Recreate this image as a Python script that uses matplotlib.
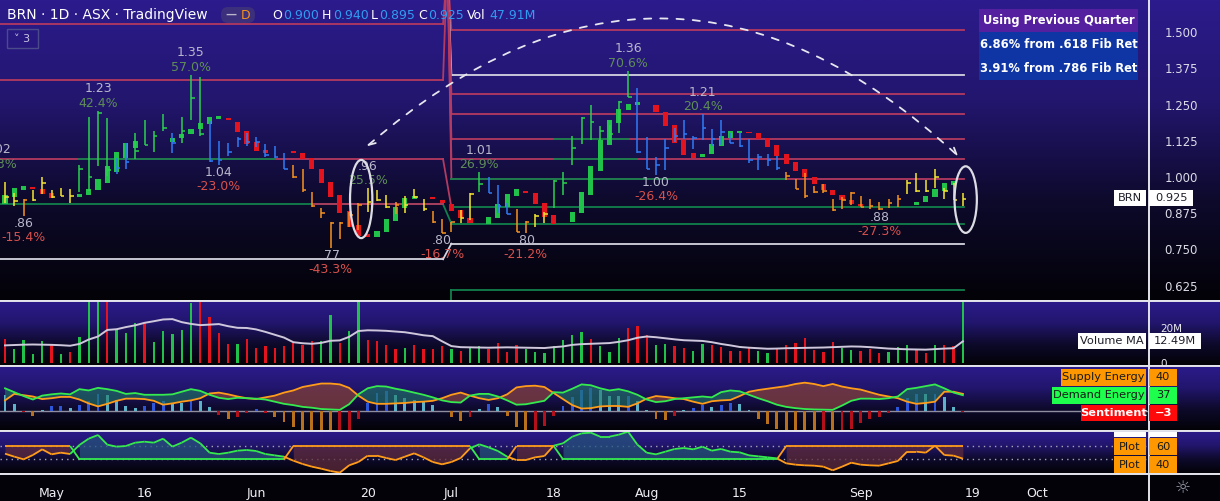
import numpy as np
import matplotlib
matplotlib.use("Agg")
import matplotlib.pyplot as plt
from matplotlib.patches import Ellipse, FancyArrowPatch, Rectangle, FancyBboxPatch
from matplotlib.colors import LinearSegmentedColormap
from matplotlib.collections import LineCollection

W, H = 1220, 501
PW = 1148  # right edge of the chart panes (price scale to the right)

# ---------------- data (bar index 0 = 22 Apr, last = 16 Sep) ----------------
body_o = [.906, .932, .955, .965, .959, .945, None, None, .932, .938,
          .955, .980, 1.018, 1.065, 1.101, None, None, None, 1.122, 1.135,
          1.148, 1.166, 1.183, 1.201, 1.204, 1.191, 1.159, 1.122, 1.093, None,
          None, 1.090, 1.082, 1.065, 1.028, .984, .938, .883, .834, .802,
          .794, .811, .848, .894, .923, None, .931, .921, .906, .886,
          .859, None, .838, .859, .897, .934, .952, .945, .910, .869,
          None, .846, .877, .938, 1.022, 1.110, 1.187, 1.231, 1.250, None,
          1.249, 1.224, 1.180, 1.128, 1.083, 1.070, 1.079, 1.107, 1.134, 1.153,
          1.156, 1.151, 1.134, 1.110, 1.079, 1.052, 1.028, .999, .976, .955,
          .938, .921, .907, None, None, None, None, None, .903, .915,
          .932, .953, .972, None]
body_c = [.938, .963, .969, .959, .941, .927, None, None, .941, .959,
          .993, 1.038, 1.086, 1.116, 1.124, None, None, None, 1.135, 1.148,
          1.166, 1.187, 1.207, 1.211, 1.197, 1.155, 1.114, 1.091, 1.084, None,
          None, 1.084, 1.061, 1.026, .980, .932, .877, .828, .797, .794,
          .815, .855, .896, .926, .934, None, .925, .909, .884, .857,
          .840, None, .863, .907, .941, .959, .945, .908, .863, .838,
          None, .880, .948, 1.038, 1.128, 1.197, 1.234, 1.253, 1.259, None,
          1.225, 1.177, 1.118, 1.076, 1.067, 1.079, 1.114, 1.142, 1.159, 1.159,
          1.153, 1.130, 1.105, 1.073, 1.045, 1.022, 1.001, .976, .955, .938,
          .921, .907, .900, None, None, None, None, None, .913, .934,
          .957, .978, .986, None]
bar_hi = [.982, .944, .923, .955, .999, .955, .962, .959, 1.040, 1.207,
          1.228, 1.204, 1.067, 1.116, 1.151, 1.197, 1.159, 1.218, 1.151, 1.206,
          1.352, 1.344, 1.194, 1.124, 1.118, 1.138, 1.151, 1.139, 1.114, 1.107,
          1.082, 1.041, 1.028, .949, .894, .846, .846, .880, .909, .961,
          .955, .938, .914, .934, .959, .924, .883, .855, .846, .886,
          .944, 1.016, .999, .972, .909, .888, .848, .872, .880, .990,
          1.017, 1.142, 1.206, 1.249, 1.176, 1.180, 1.262, 1.366, 1.306, 1.139,
          1.068, 1.131, 1.168, 1.197, 1.142, 1.216, 1.165, 1.197, 1.151, 1.153,
          1.130, 1.079, 1.079, 1.073, 1.017, .992, 1.013, .969, .975, .924,
          .930, .947, .934, .923, .915, .923, .937, .990, 1.013, .990,
          1.026, .961, .978, .944]
bar_lo = [.909, .900, .866, .918, .940, .926, .934, .911, .948, .953,
          1.039, 1.003, 1.009, 1.026, 1.061, 1.109, 1.087, 1.159, 1.082, 1.118,
          1.197, 1.143, 1.053, 1.041, 1.073, 1.105, 1.107, 1.105, 1.070, 1.065,
          1.026, .995, .947, .897, .859, .754, .785, .828, .817, .880,
          .918, .892, .872, .875, .926, .884, .840, .806, .811, .842,
          .852, .949, .944, .875, .871, .811, .806, .828, .840, .892,
          .938, 1.041, 1.114, 1.128, 1.128, 1.128, 1.153, 1.275, 1.082, 1.026,
          1.007, 1.024, 1.122, 1.130, 1.096, 1.128, 1.107, 1.110, 1.116, 1.105,
          1.049, 1.024, 1.038, 1.024, .990, .958, .929, .946, .946, .884,
          .888, .904, .895, .891, .885, .894, .895, .940, .949, .949,
          .961, .925, .921, .901]
bar_tick = [.932, .917, .920, .922, .980, .930, .936, .934, 1.026, 1.000,
            1.220, 1.024, 1.030, 1.053, 1.090, 1.110, 1.140, 1.170, 1.118, 1.160,
            1.272, 1.150, 1.055, 1.059, 1.085, 1.130, 1.120, 1.120, 1.075, 1.068,
            1.028, 1.000, .955, .900, .876, .840, .840, .870, .905, .915,
            .922, .895, .905, .905, .930, .888, .845, .806, .843, .860,
            .940, .975, .946, .900, .872, .811, .845, .865, .872, .985,
            .980, 1.100, 1.203, 1.190, 1.160, 1.150, 1.258, 1.275, 1.085, 1.028,
            1.040, 1.100, 1.140, 1.150, 1.135, 1.170, 1.130, 1.155, 1.118, 1.107,
            1.057, 1.070, 1.060, 1.030, 1.005, .960, .935, .947, .950, .886,
            .920, .945, .898, .900, .888, .910, .925, .980, .950, .953,
            1.000, .950, .921, .925]
bar_col = ("yyoyyyyygg" "ggbbggggbg" "ggbbbbbbbb" "booooooooy" "yyoyyyoooy"
           "ygbbbooyyg" "ggggggggbb" "bbbbbbbbbb" "bbbboooooo" "oooooooyyy" "yyyy")

volume = [13.9, 8.3, 13.3, 5.6, 12.8, 10.2, 5.6, 6.7, 15.0, 40.0,
          38.0, 36.0, 19.3, 17.2, 22.6, 22.6, 12.2, 18.3, 16.7, 18.9,
          33.9, 36.0, 26.1, 17.2, 11.1, 11.1, 13.9, 8.9, 10.0, 8.9,
          10.0, 11.7, 10.6, 12.8, 12.8, 27.2, 11.7, 18.3, 40.0, 13.3,
          12.8, 10.6, 8.3, 8.9, 10.6, 8.3, 8.3, 10.0, 8.3, 7.2,
          9.4, 10.0, 8.3, 11.7, 6.7, 10.6, 8.3, 6.7, 6.1, 10.0,
          13.3, 16.1, 17.8, 13.9, 10.0, 6.7, 14.4, 20.0, 21.1, 16.1,
          10.6, 11.1, 10.0, 8.9, 7.2, 11.1, 10.6, 9.4, 7.2, 7.2,
          8.9, 7.2, 6.1, 8.9, 10.6, 11.7, 14.4, 7.8, 6.7, 12.2,
          8.9, 7.8, 7.2, 8.3, 6.1, 6.7, 9.4, 10.6, 8.3, 6.1,
          10.6, 10.6, 10.0, 47.91]
vol_col = ("rggggrgrgg" "grgggrgggg" "grrrrgrrrr" "rrrrggrggr" "rrrgrrrrgr"
           "ggrrrrgggg" "gggrgggrrr" "ggrrggrrrr" "rggrrrrrrr" "ggrrrgggrr" "grrg")
vol_ma = [10.2, 10.4, 10.6, 10.7, 10.6, 10.5, 10.3, 10.0, 11.0, 13.5,
          15.2, 18.9, 19.3, 20.5, 21.5, 22.9, 23.8, 24.8, 25.0, 23.3,
          22.3, 21.6, 21.9, 22.2, 21.0, 20.1, 20.0, 19.2, 17.8, 16.2,
          14.6, 12.0, 11.4, 11.1, 11.6, 12.8, 13.0, 15.0, 18.3, 18.7,
          18.6, 18.4, 18.0, 17.6, 16.8, 15.9, 15.4, 12.5, 9.8, 9.2,
          9.1, 9.0, 8.9, 9.0, 9.1, 9.0, 8.9, 8.8, 8.7, 9.2,
          9.6, 10.5, 10.9, 11.1, 11.3, 11.5, 12.2, 13.1, 14.5, 15.2,
          14.8, 14.2, 13.6, 13.1, 12.9, 12.7, 12.0, 11.0, 10.2, 9.3,
          8.9, 8.6, 8.3, 8.4, 8.6, 8.7, 8.8, 8.9, 9.0, 9.2,
          9.4, 9.6, 9.5, 9.2, 8.8, 8.4, 8.2, 8.0, 7.9, 7.8,
          8.1, 8.4, 8.6, 12.49]

demand = [53, 44, 35, 27, 36, 39, 41, 39, 51, 48,
          54, 51, 47, 40, 42, 38, 38, 38, 39, 45,
          51, 47, 38, 31, 28, 31, 30, 29, 27, 22,
          17, 14, 10, 8, 5, 4, 3, 16, 39, 53,
          58, 57, 52, 48, 43, 38, 32, 25, 21, 20,
          36, 40, 40, 34, 25, 15, 16, 20, 24, 44,
          43, 52, 62, 60, 53, 48, 51, 46, 38, 27,
          21, 23, 28, 30, 32, 34, 32, 44, 48, 46,
          38, 30, 23, 15, 10, 7, 5, 4, 3.5, 3,
          13, 24, 29, 29, 28, 30, 34, 51, 54, 58,
          62, 53, 43, 37]
supply = [25, 40, 37, 34, 28, 30, 33, 33, 27, 18,
          11, 17, 24, 29, 29, 28, 24, 15, 18, 22,
          25, 30, 41, 43, 39, 34, 30, 28, 32, 36,
          43, 48, 56, 60, 64, 64, 62, 54, 36, 22,
          17, 17, 18, 19, 21, 22, 24, 30, 38, 43,
          36, 30, 26, 30, 39, 55, 58, 59, 56, 42,
          28, 14, 6, 7, 11, 12, 12, 10, 18, 29,
          35, 33, 30, 28, 22, 17, 23, 25, 26, 35,
          45, 49, 52, 55, 58, 63, 66, 63, 58, 63,
          57, 53, 50, 44, 38, 34, 30, 22, 17, 19,
          22, 45, 45, 40]
sentiment = [37.7, 17, -3, -12, 3, 12, 12, 8, 15, 24,
             40, 38, 26, 12, 8, 12, 18, 24, 20, 20,
             26, 24, 10, -8, -18, -13, -4, 5, -4, -13,
             -25, -36, -45, -45, -45, -45, -45, -45, -18, 19,
             42, 47, 38, 31, 26, 22, 15, 1.5, -13, -22,
             -13, 6, 17, 10, -11, -36, -45, -45, -34, -11,
             12, 33, 49, 54, 49, 35, 35, 35, 24, 3,
             -18, -20, -11, 3, 8, 15, 10, 15, 19, 17,
             3, -18, -29, -41, -45, -45, -45, -45, -45, -45,
             -45, -41, -27, -18, -13, -5, 10, 31, 40, 40,
             40, 33, 10, -3]
sent_col = ("LLROLBBLBB" "BLLLLBBBLL" "BLLRORRBRO" "OOOOOORRRB" "BBLLLLLLOO"
            "RLBLOOORRR" "BBBBLLLBLL" "OORLBBLBBL" "LOOOOOOORO" "RRRRRRBBBL" "BLLR")

osc = [48.5, 44, 40, 46.5, 55, 47.5, 50, 48, 61.5, 71,
       76.5, 62, 59, 60, 65, 66.5, 65, 71, 59, 65,
       72.5, 64, 50, 48, 50, 53, 54, 52.5, 48, 46,
       44, 38, 33, 29, 26, 22.5, 20, 31, 36, 45.5,
       45.5, 42, 39, 44, 49, 43, 36, 32.5, 36, 42,
       56.5, 62.5, 58, 52.5, 44, 39, 39, 43, 45, 60.5,
       64, 74, 79, 80, 74, 74, 77, 81.5, 62, 50,
       47.5, 51.5, 55.5, 57, 55, 59, 53, 55.5, 51.5, 50.5,
       46, 44.5, 43, 41.5, 34, 32, 31, 30.5, 29, 23.5,
       29, 35, 32, 31, 30.5, 34, 37.5, 51.5, 51.5, 50,
       60.5, 46.5, 45.5, 41]
osc_state = ("oooooooogg" "gggggggggg" "gggggggggg" "gooooooooo" "oooooooooo"
             "oggggooooo" "gggggggggg" "gggggggggg" "ggggoooooo" "oooooooooo" "oooo")

# fib retracement levels (previous quarter / current quarter)
left_lv = [1.528, 1.335, 1.062, 0.906, 0.716]
left_col = ["r", "r", "r", "g", "w"]
right_lv = [1.508, 1.352, 1.286, 1.217, 1.130, 1.061, 0.993, 0.895, 0.839, 0.770, 0.610]
right_col = ["r", "w", "r", "r", "r", "r", "r", "g", "g", "w", "g"]

# swing labels
piv_idx = [-0.8, 2, 10, 20, 23, 35, 39, 47, 51, 56, 67, 70, 75, 94]
piv_px = [1.017, .866, 1.228, 1.352, 1.041, .754, .961, .806, 1.016, .806, 1.366, 1.007, 1.216, .885]
piv_lab = ["1.02", ".86", "1.23", "1.35", "1.04", ".77", ".96", ".80", "1.01", ".80",
           "1.36", "1.00", "1.21", ".88"]
piv_pct = ["18.3%", "-15.4%", "42.4%", "57.0%", "-23.0%", "-43.3%", "25.5%", "-16.7%",
           "26.9%", "-21.2%", "70.6%", "-26.4%", "20.4%", "-27.3%"]

tick_idx = [5, 15, 27, 39, 48, 59, 69, 79, 92, 104, 111]
tick_lab = ["May", "16", "Jun", "20", "Jul", "18", "Aug", "15", "Sep", "19", "Oct"]

# ---------------- styling ----------------
GREEN, RED = "#20c24a", "#e3141e"
BARC = {"g": "#2bd14f", "b": "#2f7cf6", "y": "#f6e630", "o": "#f7931e"}
FIBC = {"r": "#b33a60", "g": "#12804c", "w": "#d4d4e0"}
HISTC = {"B": "#2d57d8", "L": "#5cb2c8", "O": "#b8701c", "R": "#b3101c"}
LG, LO = "#35ea4e", "#ff9c1a"

plt.rcParams["font.family"] = ["DejaVu Sans"]


def frac(x, y, w, h):
    return [x / W, 1 - (y + h) / H, w / W, h / H]


def nan(lst):
    return np.array([np.nan if v is None else v for v in lst], dtype=float)


fig = plt.figure(figsize=(W / 100, H / 100), dpi=100)

# background gradients
bg = fig.add_axes([0, 0, 1, 1])
grad = LinearSegmentedColormap.from_list("tv", ["#2c1b8c", "#22166e", "#0d0a2c", "#030207"])
for y0, y1 in [(0, 300), (301, 365), (366, 430), (431, 473)]:
    bg.imshow(np.linspace(0, 1, 256)[:, None], cmap=grad, extent=(0, W, y1, y0), aspect="auto")
bg.add_patch(Rectangle((0, 474), W, 27, color="#020208"))
bg.set_xlim(0, W)
bg.set_ylim(H, 0)
bg.axis("off")

x = np.arange(len(bar_hi))
XL = (-5 / 9.3, (PW - 5) / 9.3)


def pane(y, h, ylim):
    a = fig.add_axes(frac(0, y, PW, h))
    a.set_facecolor("none")
    a.set_xlim(*XL)
    a.set_ylim(*ylim)
    for s in a.spines.values():
        s.set_visible(False)
    a.set_xticks([])
    a.set_yticks([])
    return a


# ---------------- price pane ----------------
ax = pane(0, 300, (0.5753, 1.6112))
xl_end, xr_start, xr_end = 47.1, 48.0, 103.1
for lv, c in zip(left_lv, left_col):
    ax.plot([XL[0], xl_end], [lv, lv], color=FIBC[c], lw=1.3, zorder=1)
for lv, c in zip(right_lv, right_col):
    ax.plot([xr_start, xr_end], [lv, lv], color=FIBC[c], lw=1.3, zorder=1)
for lv, a0, a1, c in [(1.062, 8, 29, "g"), (0.906, 33, xl_end, "r"), (1.130, 59, 67, "g"),
                      (1.061, 59, 68, "g"), (0.993, xr_start, 84, "g")]:
    ax.plot([a0, a1], [lv, lv], color=FIBC[c], lw=1.3, zorder=1.1)
# level shift at the new quarter
for lv in left_lv[:2]:
    ax.plot([xl_end, 47.5], [lv, 1.7], color=FIBC["r"], lw=1.3, zorder=1)
for lv, c in zip(right_lv[:7], right_col[:7]):
    ax.plot([47.6, xr_start], [1.7, lv], color=FIBC[c], lw=1.3, zorder=1)
for a, b, c in [(1.062, 0.895, "r"), (0.906, 0.839, "g"), (0.716, 0.770, "w")]:
    ax.plot([xl_end, xr_start], [a, b], color=FIBC[c], lw=1.3, zorder=1)
ax.plot([xr_start, xr_start], [0.610, 0.55], color=FIBC["g"], lw=1.3, zorder=1)

bo, bc = nan(body_o), nan(body_c)
m = ~np.isnan(bo)
ax.bar(x[m], (bc - bo)[m], bottom=bo[m], width=0.55,
       color=[GREEN if c >= o else RED for o, c in zip(bo[m], bc[m])], zorder=3)
cols = [BARC[c] for c in bar_col]
ax.vlines(x, bar_lo, bar_hi, colors=cols, lw=1.1, zorder=4)
ax.hlines(bar_tick, x, x + 0.38, colors=cols, lw=1.1, zorder=4)

for i, p, lab, pct in zip(piv_idx, piv_px, piv_lab, piv_pct):
    up = not pct.startswith("-")
    o1, o2 = (16, 5.5) if up else (-5.5, -15.5)
    ax.annotate(lab, (i, p), xytext=(0, o1), textcoords="offset points", ha="center",
                va="center", fontsize=9, color="#b8b8cc", annotation_clip=False,
                clip_on=True, zorder=6)
    ax.annotate(pct, (i, p), xytext=(0, o2), textcoords="offset points", ha="center",
                va="center", fontsize=9, color="#5f8d57" if up else "#d8504c",
                annotation_clip=False, clip_on=True, zorder=6)

for cx, cy, h in [(38.3, 0.924, 0.27), (103.3, 0.922, 0.23)]:
    ax.add_patch(Ellipse((cx, cy), 2.4, h, fill=False, ec="#dcdce4", lw=1.6, zorder=7))
ax.add_patch(FancyArrowPatch((38.7, 1.100), (102.7, 1.066), connectionstyle="arc3,rad=-0.45",
                             arrowstyle="<->", mutation_scale=12, color="#e6e6ee", lw=1.3,
                             linestyle=(0, (4, 5)), zorder=7))

ax.yaxis.tick_right()
ax.set_yticks([0.625, 0.75, 0.875, 1.0, 1.125, 1.25, 1.375, 1.5])
ax.set_yticklabels(["0.625", "0.750", "0.875", "1.000", "1.125", "1.250", "1.375", "1.500"])
ax.tick_params(axis="y", length=0, pad=12, labelsize=8.5, labelcolor="#dcdce8")

# ---------------- volume pane ----------------
av = pane(301, 64, (-0.85, 35.2))
av.bar(x, volume, width=0.24, color=[GREEN if c == "g" else RED for c in vol_col], zorder=2)
av.plot(x, vol_ma, color="#cfc8dc", lw=1.4, zorder=3)
av.yaxis.tick_right()
av.set_yticks([0, 20])
av.set_yticklabels(["0", "20M"])
av.tick_params(axis="y", length=0, pad=9, labelsize=7.5, labelcolor="#e8e8f0")

# ---------------- supply / demand energy pane ----------------
ae = pane(366, 64, (-43.6, 104.6))
dm, sp = np.array(demand, float), np.array(supply, float)
ae.axhline(0, color="#8e8ea0", lw=1, zorder=1)
ae.bar(x, sentiment, width=0.32, color=[HISTC[c] for c in sent_col], zorder=2)
ae.fill_between(x, dm, sp, where=dm >= sp, interpolate=True, color="#1f7a66", alpha=0.6, lw=0, zorder=3)
ae.fill_between(x, dm, sp, where=dm < sp, interpolate=True, color="#7c3d3e", alpha=0.8, lw=0, zorder=3)
ae.plot(x, sp, color=LO, lw=1.3, zorder=4)
ae.plot(x, dm, color=LG, lw=1.3, zorder=5)

# ---------------- oscillator pane ----------------
ap = pane(431, 42, (19.5, 82.5))
for lv in (60, 40):
    ap.axhline(lv, color="#a4a4b8", lw=1, linestyle=(0, (1, 3)), zorder=1)
st = np.array(list(osc_state))
oscv = np.array(osc, float)
lvl = np.where(st == "o", 60.0, 40.0)
runs, s0 = [], 0
for i in range(1, len(st) + 1):
    if i == len(st) or st[i] != st[s0]:
        runs.append((s0, i - 1, st[s0]))
        s0 = i
for a0, a1, s in runs:
    sl = slice(a0, a1 + 1)
    ap.fill_between(x[sl], lvl[sl], oscv[sl], color="#25527c" if s == "g" else "#5e2b3c",
                    alpha=0.75, lw=0, zorder=2)
segc = [LG if s == "g" else LO for s in st[1:]]
for yy in (lvl, oscv):
    pts = np.column_stack([x, yy])
    ap.add_collection(LineCollection(np.stack([pts[:-1], pts[1:]], axis=1), colors=segc,
                                     lw=1.3, zorder=3))
ap.set_xticks(tick_idx)
ap.set_xticklabels(tick_lab)
ap.tick_params(axis="x", length=0, pad=10, labelsize=9, labelcolor="#f0f0f4")

# ---------------- overlay: chrome, header, labels ----------------
ov = fig.add_axes([0, 0, 1, 1])
ov.set_facecolor("none")
ov.set_xlim(0, W)
ov.set_ylim(H, 0)
ov.axis("off")
for yy in (300.5, 365.5, 430.5, 473.5):
    ov.plot([0, W], [yy, yy], color="#e4e4ec", lw=1.4)
ov.plot([PW + 0.5, PW + 0.5], [0, H], color="#e4e4ec", lw=1.4)

ov.text(7, 15, "BRN · 1D · ASX · TradingView", color="white", fontsize=10, va="center")
ov.add_patch(FancyBboxPatch((221, 7), 34, 16, boxstyle="round,pad=0,rounding_size=7",
                            fc="#3c2f7c", ec="none"))
ov.text(231, 15, "—", color="#b8b8c8", fontsize=8, va="center", ha="center", fontweight="bold")
ov.text(246, 15, "D", color="#f7931e", fontsize=9, va="center", ha="center")
for s, xx, c in [("O", 272, "w"), ("0.900", 283, "b"), ("H", 322, "w"), ("0.940", 333, "b"),
                 ("L", 371, "w"), ("0.895", 379, "b"), ("C", 418, "w"), ("0.925", 428, "b"),
                 ("Vol", 467, "w"), ("47.91M", 489, "b")]:
    ov.text(xx, 15, s, color="white" if c == "w" else "#2f9df2", fontsize=9, va="center")
ov.add_patch(Rectangle((7, 29), 31, 19, fc="none", ec="#4b4b8c", lw=1))
ov.text(22.5, 38.5, "\u02c5 3", color="#c8c8e4", fontsize=8, va="center", ha="center")

# quarter table
ov.add_patch(Rectangle((979, 9), 159, 23, fc="#54209f", ec="none"))
ov.add_patch(Rectangle((979, 32), 159, 48, fc="#0f35a5", ec="none"))
for yy, s in [(20.5, "Using Previous Quarter"), (44, "6.86% from .618 Fib Ret"),
              (68, "3.91% from .786 Fib Ret")]:
    ov.text(1058.5, yy, s, color="white", fontsize=8.3, va="center", ha="center", fontweight="semibold")


def tag(x0, x1, y0, y1, s, fc, tc, bold=False):
    ov.add_patch(Rectangle((x0, y0), x1 - x0, y1 - y0, fc=fc, ec="none", zorder=5))
    ov.text((x0 + x1) / 2, (y0 + y1) / 2, s, color=tc, fontsize=8.2, ha="center", va="center",
            fontweight="bold" if bold else "normal", zorder=6, clip_on=True)


tag(1114, 1146, 190, 206, "BRN", "white", "#1e1e2a")
tag(1149, 1193, 190, 206, "0.925", "white", "#1e1e2a")
tag(1078, 1146, 333, 349, "Volume MA", "white", "#1e1e2a")
tag(1149, 1201, 333, 349, "12.49M", "white", "#1e1e2a")
tag(1061, 1146, 369, 386, "Supply Energy", "#ff9800", "#1a1a1a")
tag(1149, 1177, 369, 386, "40", "#ff9800", "#1a1a1a")
tag(1052, 1146, 387, 404, "Demand Energy", "#1dff4c", "#1a1a1a")
tag(1149, 1177, 387, 404, "37", "#1dff4c", "#1a1a1a")
tag(1081, 1146, 405, 421, "Sentiment", "#ff0a0a", "white", bold=True)
tag(1149, 1177, 405, 421, "\u22123", "#ff0a0a", "white", bold=True)
tag(1114, 1146, 432, 437, "", "white", "#1e1e2a")
tag(1149, 1177, 432, 437, "", "white", "#1e1e2a")
tag(1114, 1146, 438, 455, "Plot", "#ff9800", "#1a1a1a")
tag(1149, 1177, 438, 455, "60", "#ff9800", "#1a1a1a")
tag(1114, 1146, 456, 473, "Plot", "#ff9800", "#1a1a1a")
tag(1149, 1177, 456, 473, "40", "#ff9800", "#1a1a1a")
ov.text(1183, 488, "\u263c", color="#9a9aac", fontsize=13, ha="center", va="center")

fig.savefig("out.png", dpi=100)
